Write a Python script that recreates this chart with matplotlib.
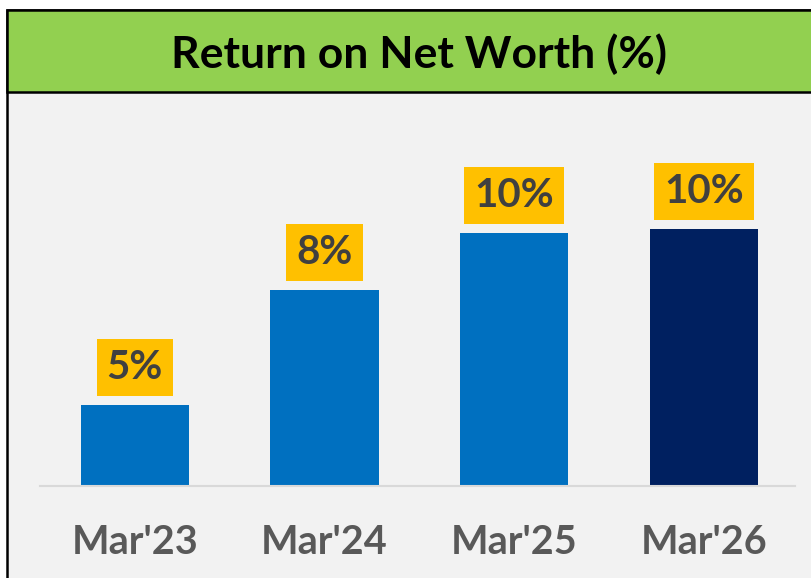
import matplotlib
matplotlib.use("Agg")
import matplotlib.pyplot as plt
from matplotlib.patches import Rectangle

plt.rcParams['font.family'] = ['Lato', 'DejaVu Sans']

# data
periods = ["Mar'23", "Mar'24", "Mar'25", "Mar'26"]
ronw = [5.0, 8.0, 9.5, 9.6]
ronw_labels = ["5%", "8%", "10%", "10%"]
bar_colors = ["#0070C0", "#0070C0", "#0070C0", "#002060"]

W, H = 812, 578
fig = plt.figure(figsize=(W / 100, H / 100), dpi=100)
fig.patch.set_facecolor("white")

def fx(px):
    return px / W

def fy(py):
    return 1 - py / H

# outer frame + grey plot area
fig.patches.append(Rectangle((fx(7), -0.1), 1.2, fy(10) + 0.1, transform=fig.transFigure,
                             facecolor="#F2F2F2", edgecolor="black", lw=1.8, zorder=0))
# green title band
fig.patches.append(Rectangle((fx(7), fy(92)), 1.2, (92 - 10) / H, transform=fig.transFigure,
                             facecolor="#92D050", edgecolor="black", lw=1.8, zorder=1))
fig.text(fx(419), fy(54), "Return on Net Worth (%)", ha="center", va="center",
         fontsize=32, fontweight="bold", color="black", zorder=3)

ax = fig.add_axes([fx(40), 1 - 486 / H, (795 - 40) / W, (486 - 100) / H])
ax.set_zorder(5)
ax.patch.set_alpha(0)

x = range(len(periods))
bars = ax.bar(x, ronw, width=0.57, color=bar_colors, bottom=0)
ax.set_xlim(-0.5, 3.48)
ax.set_ylim(2.886, 12.96)

for i, b in enumerate(bars):
    ax.annotate(ronw_labels[i], (b.get_x() + b.get_width() / 2, b.get_height()),
                xytext=(0, 27), textcoords="offset points", ha="center", va="center",
                fontsize=29, fontweight="bold", color="#404040",
                bbox=dict(boxstyle="square,pad=0.25", facecolor="#FFC000", edgecolor="none"))

ax.set_xticks(list(x))
ax.set_xticklabels(periods, fontsize=28.5, fontweight="bold", color="#595959")
ax.tick_params(axis="x", length=0, pad=27)
ax.set_yticks([])
for s in ["top", "right", "left"]:
    ax.spines[s].set_visible(False)
ax.spines["bottom"].set_color("#D9D9D9")
ax.spines["bottom"].set_linewidth(1.5)

fig.savefig("out.png", dpi=100)
